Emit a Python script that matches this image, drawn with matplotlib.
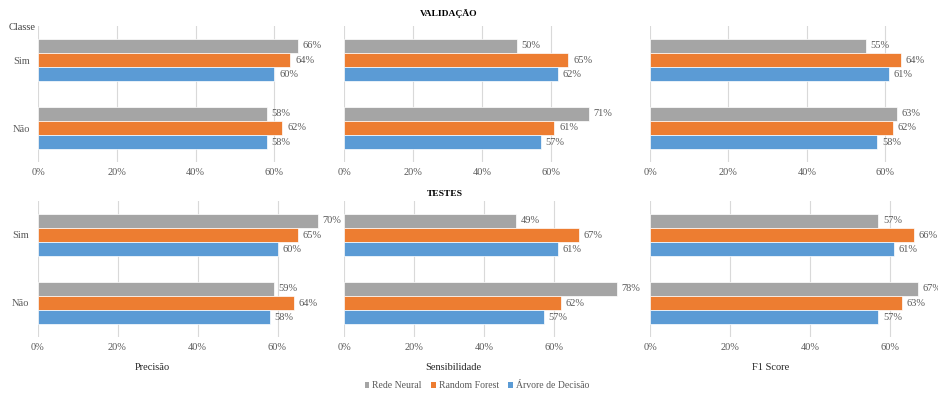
import matplotlib
matplotlib.use("Agg")
import matplotlib.pyplot as plt
from matplotlib.patches import Patch

plt.rcParams['font.family'] = ['Liberation Serif', 'DejaVu Serif']

# Data (percent)
classes = ["Sim", "Não"]
models = ["Rede Neural", "Random Forest", "Árvore de Decisão"]
colors = ["#A5A5A5", "#ED7D31", "#5B9BD5"]
metrics = ["Precisão", "Sensibilidade", "F1 Score"]

# validation: [model][class]
val_precisao = [[66, 58], [64, 62], [60, 58]]
val_sensibilidade = [[50, 71], [65, 61], [62, 57]]
val_f1 = [[55, 63], [64, 62], [61, 58]]

# tests
test_precisao = [[70, 59], [65, 64], [60, 58]]
test_sensibilidade = [[49, 78], [67, 62], [61, 57]]
test_f1 = [[57, 67], [66, 63], [61, 57]]

W, H = 938, 394
fig = plt.figure(figsize=(W / 100, H / 100), dpi=100)

def px_axes(x0, y_top, width, height):
    return fig.add_axes([x0 / W, 1 - (y_top + height) / H, width / W, height / H])

# panel layout in pixels: (x0, px per percent)
rows = [
    (26, [(38, 3.94), (344, 3.45), (650, 3.92)], [val_precisao, val_sensibilidade, val_f1]),
    (201, [(37.5, 4.0), (344, 3.5), (650, 4.0)], [test_precisao, test_sensibilidade, test_f1]),
]
bar_h = 0.206
text_col = "#595959"

for y_top, cols, datasets in rows:
    for ci, ((x0, ppp), data) in enumerate(zip(cols, datasets)):
        ax = px_axes(x0, y_top, 80 * ppp, 136)
        ax.patch.set_alpha(0)
        for mi, (vals, col) in enumerate(zip(data, colors)):
            ys = [k + (mi - 1) * bar_h for k in range(len(classes))]
            bars = ax.barh(ys, vals, height=bar_h, color=col, edgecolor="white",
                           linewidth=0.5, zorder=2)
            for b, v in zip(bars, vals):
                ax.annotate(f"{v}%", (v, b.get_y() + b.get_height() / 2),
                            xytext=(3.5, 0), textcoords="offset points",
                            va="center", ha="left", fontsize=7.5, color=text_col,
                            annotation_clip=False)
        ax.set_xlim(0, 80)
        ax.set_ylim(1.5, -0.5)
        ax.set_xticks([0, 20, 40, 60])
        ax.set_xticklabels(["0%", "20%", "40%", "60%"])
        ax.grid(axis="x", color="#D9D9D9", linewidth=0.8, zorder=0)
        ax.set_axisbelow(True)
        for s in ax.spines.values():
            s.set_visible(False)
        ax.tick_params(length=0, labelsize=7.5, labelcolor=text_col, pad=4.5)
        ax.set_yticks(range(len(classes)))
        if ci == 0:
            ax.set_yticklabels(classes, fontsize=7.5, color=text_col)
            ax.tick_params(axis="y", pad=6)
        else:
            ax.set_yticklabels([])

fig.text(9 / W, 1 - 27 / H, "Classe", fontsize=7.5, color="#404040", va="center", ha="left")
fig.text(449 / W, 1 - 14 / H, "VALIDAÇÃO", fontsize=6.8, fontweight="bold", ha="center", va="center")
fig.text(445 / W, 1 - 194 / H, "TESTES", fontsize=6.8, fontweight="bold", ha="center", va="center")
for name, xc in zip(metrics, [152, 453, 771]):
    fig.text(xc / W, 1 - 367 / H, name, fontsize=7.5, ha="center", va="center", color="#262626")

handles = [Patch(facecolor=c, label=m) for c, m in zip(colors, models)]
fig.legend(handles=handles, loc="center", bbox_to_anchor=(477 / W, 1 - 386 / H),
           ncol=3, frameon=False, fontsize=7, handlelength=0.45, handleheight=0.45,
           handletextpad=0.3, columnspacing=1.0, labelcolor=text_col)

fig.savefig("out.png", dpi=100)
